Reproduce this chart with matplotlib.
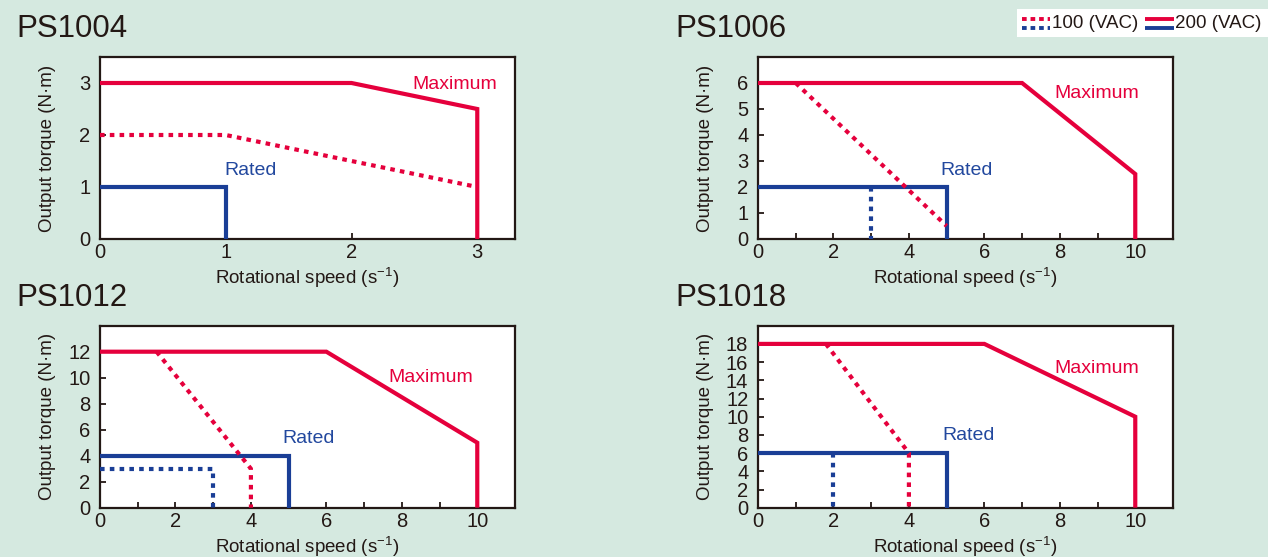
import matplotlib
matplotlib.use("Agg")
import matplotlib.pyplot as plt
from matplotlib.lines import Line2D
from matplotlib.patches import Rectangle
from matplotlib.ticker import MultipleLocator

plt.rcParams['font.family'] = ['Liberation Sans', 'DejaVu Sans']
plt.rcParams['mathtext.fontset'] = 'custom'
plt.rcParams['mathtext.rm'] = 'Liberation Sans'
plt.rcParams['mathtext.it'] = 'Liberation Sans'
plt.rcParams['mathtext.default'] = 'regular'

# ---------------- data ----------------
models = ["PS1004", "PS1006", "PS1012", "PS1018"]

# PS1004
ps1004_max200_x = [0, 2, 3, 3]
ps1004_max200_y = [3, 3, 2.5, 0]
ps1004_max100_x = [0, 1, 3]
ps1004_max100_y = [2, 2, 1]
ps1004_rat200_x = [0, 1, 1]
ps1004_rat200_y = [1, 1, 0]
ps1004_rat100_x = []
ps1004_rat100_y = []

# PS1006
ps1006_max200_x = [0, 7, 10, 10]
ps1006_max200_y = [6, 6, 2.5, 0]
ps1006_max100_x = [1, 5]
ps1006_max100_y = [6, 0.5]
ps1006_rat200_x = [0, 5, 5]
ps1006_rat200_y = [2, 2, 0]
ps1006_rat100_x = [3, 3]
ps1006_rat100_y = [2, 0]

# PS1012
ps1012_max200_x = [0, 6, 10, 10]
ps1012_max200_y = [12, 12, 5, 0]
ps1012_max100_x = [1.5, 4, 4]
ps1012_max100_y = [12, 3, 0]
ps1012_rat200_x = [0, 5, 5]
ps1012_rat200_y = [4, 4, 0]
ps1012_rat100_x = [0, 3, 3]
ps1012_rat100_y = [3, 3, 0]

# PS1018
ps1018_max200_x = [0, 6, 10, 10]
ps1018_max200_y = [18, 18, 10, 0]
ps1018_max100_x = [1.8, 4, 4]
ps1018_max100_y = [18, 6, 0]
ps1018_rat200_x = [0, 5, 5]
ps1018_rat200_y = [6, 6, 0]
ps1018_rat100_x = [2, 2]
ps1018_rat100_y = [6, 0]

x_limits = [3.3, 11, 11, 11]
y_limits = [3.5, 7, 14, 20]
x_major = [1, 2, 2, 2]
x_minor = [1, 1, 1, 1]
y_major = [1, 1, 2, 2]
max_label_pos = [(2.48, 2.97), (7.86, 5.6), (7.64, 10.0), (7.86, 15.3)]
rated_label_pos = [(0.99, 1.31), (4.84, 2.65), (4.84, 5.36), (4.89, 7.96)]

xlabel = "Rotational speed (s$^{-1}$)"
ylabel = "Output torque (N·m)"
legend_labels = ["100 (VAC)", "200 (VAC)"]

series = [
    (ps1004_max200_x, ps1004_max200_y, ps1004_max100_x, ps1004_max100_y,
     ps1004_rat200_x, ps1004_rat200_y, ps1004_rat100_x, ps1004_rat100_y),
    (ps1006_max200_x, ps1006_max200_y, ps1006_max100_x, ps1006_max100_y,
     ps1006_rat200_x, ps1006_rat200_y, ps1006_rat100_x, ps1006_rat100_y),
    (ps1012_max200_x, ps1012_max200_y, ps1012_max100_x, ps1012_max100_y,
     ps1012_rat200_x, ps1012_rat200_y, ps1012_rat100_x, ps1012_rat100_y),
    (ps1018_max200_x, ps1018_max200_y, ps1018_max100_x, ps1018_max100_y,
     ps1018_rat200_x, ps1018_rat200_y, ps1018_rat100_x, ps1018_rat100_y),
]

# ---------------- style ----------------
BG = '#D5E9E0'
RED = '#E5003C'
BLUE = '#1A3E96'
BLUE_TXT = '#22489E'
INK = '#231815'
LW = 3.0
DOT = (0, (1.1, 1.25))

W, H = 1268, 557
fig = plt.figure(figsize=(W / 100, H / 100), dpi=100, facecolor=BG)

ax_boxes = [(100, 57), (758, 57), (100, 325.7), (758, 325.7)]
box_w, box_h = 415, 182
title_pos = [(16, 37), (675, 37), (16, 306), (675, 306)]

for i in range(4):
    left, top = ax_boxes[i]
    ax = fig.add_axes([left / W, (H - top - box_h) / H, box_w / W, box_h / H])
    ax.set_facecolor('white')
    m2x, m2y, m1x, m1y, r2x, r2y, r1x, r1y = series[i]
    ax.plot(r2x, r2y, color=BLUE, lw=LW, solid_joinstyle='miter', solid_capstyle='butt', zorder=3)
    if r1x:
        ax.plot(r1x, r1y, color=BLUE, lw=LW, ls=DOT, dash_capstyle='butt', zorder=3)
    ax.plot(m2x, m2y, color=RED, lw=LW, solid_joinstyle='miter', solid_capstyle='butt', zorder=4)
    ax.plot(m1x, m1y, color=RED, lw=LW, ls=DOT, dash_capstyle='butt', zorder=4)

    ax.set_xlim(0, x_limits[i])
    ax.set_ylim(0, y_limits[i])
    ax.xaxis.set_minor_locator(MultipleLocator(x_minor[i]))
    xt = [t for t in range(0, int(x_limits[i]) + 1, x_major[i])]
    yt = [t for t in range(0, int(y_limits[i] - 0.5) + 1, y_major[i])]
    ax.set_xticks(xt)
    ax.set_yticks(yt)
    ax.tick_params(axis='both', which='both', direction='in', length=4, width=1.3,
                   color=INK, labelcolor=INK, labelsize=14.5)
    ax.tick_params(axis='x', pad=3)
    ax.tick_params(axis='y', pad=7)
    ax.tick_params(top=False, right=False, which='both')
    for s in ax.spines.values():
        s.set_color(INK)
        s.set_linewidth(1.6)
    ax.set_xlabel(xlabel, fontsize=13.5, color=INK, labelpad=3)
    ax.set_ylabel(ylabel, fontsize=13.5, color=INK)
    ax.yaxis.set_label_coords(-0.107, 0.5)

    mx, my = max_label_pos[i]
    ax.text(mx, my, "Maximum", color=RED, fontsize=14, ha='left', va='center', zorder=5)
    rx, ry = rated_label_pos[i]
    ax.text(rx, ry, "Rated", color=BLUE_TXT, fontsize=14, ha='left', va='center', zorder=5)

    tx, ty = title_pos[i]
    fig.text(tx / W, (H - ty) / H, models[i], fontsize=22.5, color=INK, ha='left', va='baseline')

# ---------------- legend (manual) ----------------
fig.add_artist(Rectangle((1017 / W, (H - 37) / H), (W - 1017) / W, 28 / H,
                         transform=fig.transFigure, facecolor='white', edgecolor='none'))
def fy(y):
    return (H - y) / H
fig.add_artist(Line2D([1022 / W, 1050 / W], [fy(18.5), fy(18.5)], color=RED, lw=2.8,
                      ls=(0, (1.2, 1.0)), dash_capstyle='butt', transform=fig.transFigure))
fig.add_artist(Line2D([1022 / W, 1050 / W], [fy(27.5), fy(27.5)], color=BLUE, lw=2.8,
                      ls=(0, (1.2, 1.0)), dash_capstyle='butt', transform=fig.transFigure))
fig.text(1052 / W, fy(23), legend_labels[0], fontsize=13.5, color=INK, ha='left', va='center')
fig.add_artist(Line2D([1145 / W, 1174 / W], [fy(18.5), fy(18.5)], color=RED, lw=2.8,
                      solid_capstyle='butt', transform=fig.transFigure))
fig.add_artist(Line2D([1145 / W, 1174 / W], [fy(27.5), fy(27.5)], color=BLUE, lw=2.8,
                      solid_capstyle='butt', transform=fig.transFigure))
fig.text(1175 / W, fy(23), legend_labels[1], fontsize=13.5, color=INK, ha='left', va='center')

fig.savefig("out.png", dpi=100, facecolor=BG)
